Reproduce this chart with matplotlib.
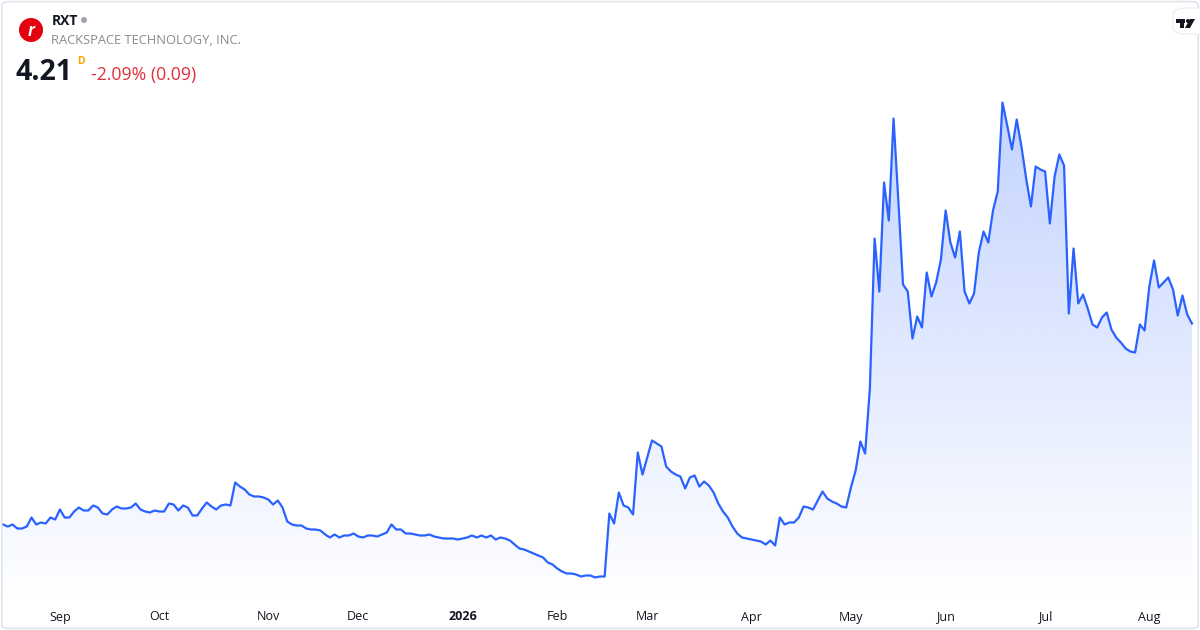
import numpy as np
import pandas as pd
import matplotlib
matplotlib.use("Agg")
import matplotlib.pyplot as plt
from matplotlib.patches import Ellipse, FancyBboxPatch, Polygon, Rectangle

plt.rcParams['font.family'] = ['Open Sans', 'DejaVu Sans']

# trading days, Aug 14 2025 -> Aug 14 2026
holidays = ['2025-09-01', '2025-11-27', '2025-12-25', '2026-01-01', '2026-01-19',
            '2026-02-16', '2026-04-03', '2026-05-25', '2026-06-19', '2026-07-03']
dates = pd.bdate_range('2025-08-14', '2026-08-14', freq='C', holidays=holidays)

# daily close
close = [
    2.20, 2.18, 2.20, 2.16, 2.16, 2.18, 2.27, 2.20, 2.22, 2.21,
    2.27, 2.25, 2.35, 2.27, 2.27, 2.33, 2.37, 2.34, 2.34, 2.39,
    2.37, 2.31, 2.30, 2.35, 2.38, 2.36, 2.36, 2.37, 2.41, 2.35,
    2.33, 2.32, 2.34, 2.33, 2.33, 2.41, 2.40, 2.34, 2.39, 2.37,
    2.29, 2.29, 2.36, 2.42, 2.38, 2.35, 2.39, 2.40, 2.39, 2.62,
    2.58, 2.55, 2.50, 2.48, 2.48, 2.47, 2.45, 2.40, 2.44, 2.37,
    2.23, 2.20, 2.19, 2.19, 2.16, 2.15, 2.15, 2.14, 2.10, 2.07,
    2.10, 2.07, 2.09, 2.09, 2.11, 2.08, 2.07, 2.09, 2.09, 2.08,
    2.10, 2.12, 2.20, 2.15, 2.15, 2.11, 2.11, 2.10, 2.09, 2.09,
    2.10, 2.08, 2.07, 2.06, 2.06, 2.06, 2.05, 2.06, 2.07, 2.09,
    2.07, 2.09, 2.07, 2.09, 2.05, 2.07, 2.06, 2.04, 2.00, 1.96,
    1.95, 1.93, 1.91, 1.89, 1.87, 1.82, 1.80, 1.76, 1.73, 1.71,
    1.71, 1.70, 1.68, 1.69, 1.69, 1.67, 1.68, 1.68, 2.31, 2.21,
    2.52, 2.39, 2.37, 2.30, 2.92, 2.70, 2.87, 3.04, 3.01, 2.98,
    2.78, 2.73, 2.70, 2.68, 2.56, 2.67, 2.69, 2.58, 2.63, 2.59,
    2.52, 2.41, 2.33, 2.27, 2.18, 2.11, 2.07, 2.06, 2.05, 2.04,
    2.03, 2.00, 2.04, 1.99, 2.27, 2.20, 2.22, 2.22, 2.27, 2.38,
    2.37, 2.35, 2.44, 2.53, 2.46, 2.43, 2.41, 2.38, 2.37, 2.57,
    2.74, 3.03, 2.91, 3.56, 5.06, 4.53, 5.62, 5.24, 6.26, 5.45,
    4.60, 4.53, 4.06, 4.28, 4.17, 4.72, 4.48, 4.62, 4.85, 5.34,
    5.02, 4.87, 5.13, 4.53, 4.41, 4.51, 4.92, 5.13, 5.02, 5.34,
    5.53, 6.42, 6.19, 5.95, 6.25, 5.98, 5.66, 5.38, 5.78, 5.75,
    5.73, 5.21, 5.68, 5.90, 5.79, 4.31, 4.96, 4.41, 4.50, 4.36,
    4.20, 4.17, 4.27, 4.32, 4.15, 4.07, 4.02, 3.96, 3.93, 3.92,
    4.20, 4.14, 4.58, 4.84, 4.57, 4.62, 4.67, 4.55, 4.29, 4.49,
    4.30, 4.21,
]

ticker = "RXT"
company = "RACKSPACE TECHNOLOGY, INC."
last_price = "4.21"
change_text = "-2.09% (0.09)"

blue = '#2962ff'
W, H = 1200, 630

x = np.arange(len(close))
y = np.array(close)

fig = plt.figure(figsize=(12, 6.3), dpi=100)
ax = fig.add_axes([0, 0, 1, 1])
ax.set_xlim(-0.65, 252.7)
ax.set_ylim(1.145, 7.445)
ax.axis('off')

# gradient fill under the line, fading out towards the bottom
base = 1.40
poly = ax.fill_between(x, y, base, color='none', lw=0)
n = 256
rgba = np.zeros((n, 1, 4))
rgba[:, 0, :3] = matplotlib.colors.to_rgb(blue)
rgba[:, 0, 3] = np.linspace(0.0, 0.28, n)
img = ax.imshow(rgba, extent=[x[0], x[-1], base, y.max()], origin='lower',
                aspect='auto', zorder=1, interpolation='bilinear')
img.set_clip_path(poly.get_paths()[0], transform=ax.transData)

ax.plot(x, y, color=blue, lw=1.6, zorder=3, solid_joinstyle='round')

# month labels at first trading day of each month
s = pd.Series(x, index=dates)
firsts = s.groupby([dates.year, dates.month]).first()
for (yr, mo), xi in firsts.items():
    if (yr, mo) == (2025, 8):
        continue
    if mo == 1:
        lab, fw = str(yr), 'bold'
    else:
        lab, fw = pd.Timestamp(yr, mo, 1).strftime('%b'), 'normal'
    ax.text(xi, 1 - 617 / H, lab, transform=ax.get_xaxis_transform(),
            ha='center', va='center', fontsize=9, color='#131722', fontweight=fw)


def px(xp, yp):
    return xp / W, 1 - yp / H


def dot(xp, yp, r, color):
    fig.patches.append(Ellipse(px(xp, yp), 2 * r / W, 2 * r / H,
                               transform=fig.transFigure, fc=color, ec='none'))


# card border
fig.patches.append(FancyBboxPatch((0.0015, 0.0025), 0.997, 0.995, transform=fig.transFigure,
                                  boxstyle='round,pad=0,rounding_size=0.006',
                                  fc='none', ec='#e0e3eb', lw=1.2))

# header
dot(31, 30, 12, '#e3000f')
fig.text(*px(31.5, 31), 'r', color='white', fontsize=12, fontweight='bold',
         style='italic', ha='center', va='center')
fig.text(*px(52, 21), ticker, fontsize=10, fontweight='bold', color='#131722',
         ha='left', va='center')
dot(84, 20, 3, '#a0a3ab')
fig.text(*px(51, 41), company, fontsize=9.3, color='#878b93', ha='left', va='center')
fig.text(*px(16, 73), last_price, fontsize=20.5, fontweight='bold', color='#131722',
         ha='left', va='center')
fig.text(*px(77, 61), 'D', fontsize=7.5, fontweight='bold', color='#f7a600',
         ha='left', va='center')
fig.text(*px(91, 75), change_text, fontsize=12.7, color='#e0303a', ha='left', va='center')

# tradingview badge
fig.patches.append(FancyBboxPatch(px(1173, 34), 40 / W, 26 / H, transform=fig.transFigure,
                                  boxstyle='round,pad=0,rounding_size=0.011',
                                  fc='white', ec='#eceef2', lw=1))
fig.patches.append(Rectangle(px(1176, 23), 9 / W, 4 / H, transform=fig.transFigure,
                             fc='#131722', ec='none'))
fig.patches.append(Rectangle(px(1180, 28), 4 / W, 5 / H, transform=fig.transFigure,
                             fc='#131722', ec='none'))
dot(1188, 21, 2, '#131722')
fig.patches.append(Polygon([px(1190, 19), px(1195, 19), px(1190, 28), px(1185, 28)],
                           closed=True, transform=fig.transFigure, fc='#131722', ec='none'))

fig.savefig('out.png', dpi=100, facecolor='white')
